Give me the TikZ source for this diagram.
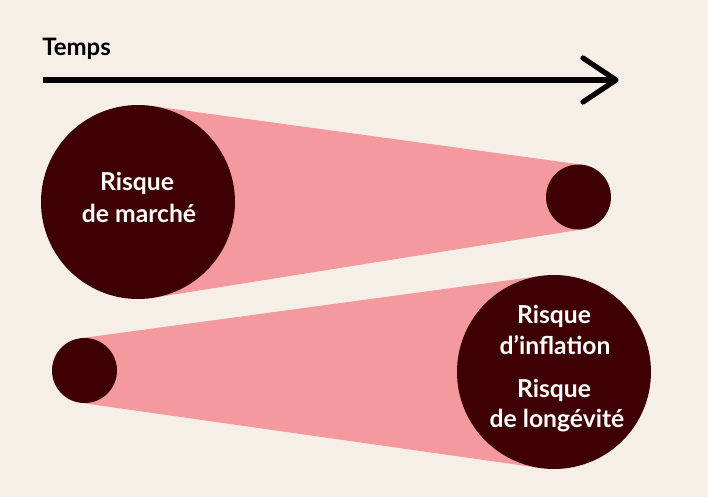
\documentclass[tikz,border=0pt]{standalone}
\usepackage{fontspec}
\setmainfont{Lato}
\usetikzlibrary{backgrounds}
\definecolor{bg}{HTML}{F5EFE7}
\definecolor{maroon}{HTML}{3E0002}
\definecolor{rose}{HTML}{F4999D}
\begin{document}
\begin{tikzpicture}[x=0.75pt,y=-0.75pt,
  risk/.style={circle, fill=maroon, inner sep=0pt, outer sep=0pt},
  bigrisk/.style={risk, minimum size=145.5pt},
  smallrisk/.style={risk, minimum size=48.75pt},
  lbl/.style={text=white, font=\fontsize{18.5}{22}\selectfont\bfseries, anchor=base, inner sep=0pt},
  band/.style={fill=rose},
  timeline/.style={line width=5pt},
  head/.style={line width=3.9pt, line cap=round, line join=round}]
\useasboundingbox (0,0) rectangle (708,497);
% circles
\node[bigrisk]   (m)  at (138,202) {};
\node[smallrisk] (s1) at (578.5,197) {};
\node[smallrisk] (s2) at (84.5,370.5) {};
\node[bigrisk]   (l)  at (554,372) {};
% bands
\begin{scope}[on background layer]
  \fill[bg] (0,0) rectangle (708,497);
  \fill[band] (m.82.2) -- (s1.82.2) -- (s1.-80.9) -- (m.-80.9) -- cycle;
  \fill[band] (s2.97.7) -- (l.97.7) -- (l.-98.1) -- (s2.-98.1) -- cycle;
\end{scope}
% labels
\node[lbl] (t1) at (137,190) {Risque};
\node[lbl] (t2) at (139,222) {de marché};
\node[lbl] (t3) at (554,323) {Risque};
\node[lbl] (t4) at (555,354) {d’inflation};
\node[lbl] (t5) at (554,397) {Risque};
\node[lbl] (t6) at (557,427) {de longévité};
% time axis
\node[font=\fontsize{18}{22}\selectfont\bfseries, anchor=base west, inner sep=0pt] (temps) at (42,55) {Temps};
\coordinate (a0) at (43,80);
\coordinate (a1) at (616,80);
\draw[timeline] (a0) -- (a1);
\draw[head] ([shift={(-33,-22)}]a1) -- (a1) -- ([shift={(-33,22)}]a1);
\end{tikzpicture}
\end{document}
